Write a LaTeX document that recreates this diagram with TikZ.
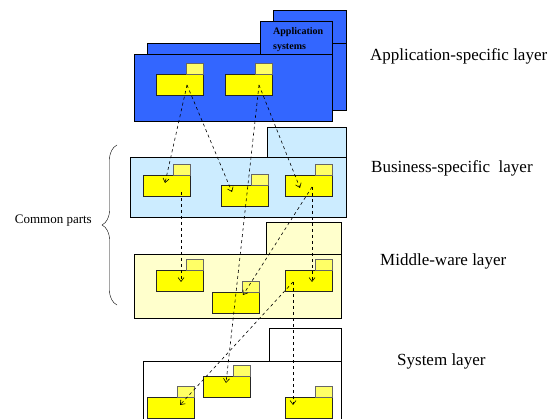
\documentclass[tikz,border=0pt]{standalone}
\usepackage{fontspec}
\setmainfont{Liberation Serif}
\usetikzlibrary{arrows.meta, decorations.pathreplacing}
\definecolor{appBlue}{HTML}{3366FF}
\definecolor{busBlue}{HTML}{CCECFF}
\definecolor{midYellow}{HTML}{FFFFCC}
\definecolor{pkgYellow}{HTML}{FFFF00}
\definecolor{tabYellow}{HTML}{FFFF66}

\newcommand{\umlpkg}[3]{%
  \node[pkgbody] (#1) at (#2,#3) {};
  \node[pkgtab] (#1tab) at (#1.north east) {};}

\begin{document}
\begin{tikzpicture}[
  x=1pt, y=-1pt,
  lbody/.style={draw, line width=0.8pt, inner sep=0pt, outer sep=0pt, anchor=north west},
  ltab/.style={draw, line width=0.8pt, inner sep=0pt, outer sep=0pt, anchor=south east},
  pkgbody/.style={draw=black!85, line width=0.7pt, fill=pkgYellow, inner sep=0pt, outer sep=0pt,
                  minimum width=47pt, minimum height=21pt, anchor=north west},
  pkgtab/.style={draw=black!60, line width=0.7pt, fill=tabYellow, inner sep=0pt, outer sep=0pt,
                 minimum width=17pt, minimum height=11pt, anchor=south east},
  dep/.style={dashed, line width=0.6pt, -{Straight Barb[length=4pt, width=6pt]}},
  layername/.style={anchor=base west, inner sep=0pt, font=\fontsize{17}{20}\selectfont}
]
\clip (0,0) rectangle (551,419);

\node[lbody, fill=appBlue, minimum width=199pt, minimum height=67pt] (appback) at (147,43) {};
\node[ltab, fill=appBlue, minimum width=73pt, minimum height=33pt] (appbacktab) at (appback.north east) {};
\node[lbody, fill=appBlue, minimum width=198pt, minimum height=67pt] (app) at (134,54) {};
\node[ltab, fill=appBlue, minimum width=72pt, minimum height=33pt] (apptab) at (app.north east) {};
\node[anchor=north west, align=left, inner sep=0pt, font=\fontsize{10}{15}\selectfont\bfseries]
  (appsys) at (273,27) {Application\\systems};

\node[lbody, fill=busBlue, minimum width=216pt, minimum height=60pt] (bus) at (130,157) {};
\node[ltab, fill=busBlue, minimum width=79pt, minimum height=30pt] (bustab) at (bus.north east) {};

\node[lbody, fill=midYellow, minimum width=207pt, minimum height=64pt] (mid) at (134,254) {};
\node[ltab, fill=midYellow, minimum width=75pt, minimum height=32pt] (midtab) at (mid.north east) {};

\node[lbody, fill=white, minimum width=198pt, minimum height=80pt] (sys) at (143,361) {};
\node[ltab, fill=white, minimum width=72pt, minimum height=33pt] (systab) at (sys.north east) {};

\umlpkg{app1}{156}{74}
\umlpkg{app2}{225}{74}
\umlpkg{busA}{143}{175}
\umlpkg{busB}{221}{185}
\umlpkg{busC}{285}{175}
\umlpkg{midD}{156}{270}
\umlpkg{midE}{212}{292}
\umlpkg{midF}{285}{270}
\umlpkg{sysG}{147}{397}
\umlpkg{sysH}{203}{376}
\umlpkg{sysI}{285}{397}

\draw[dep] ([shift={(31,11)}]app1.north west) -- ([shift={(22,8)}]busA.north west);
\draw[dep] ([shift={(31,11)}]app1.north west) -- ([shift={(11,7)}]busB.north west);
\draw[dep] ([shift={(34,11)}]app2.north west) -- ([shift={(15,13)}]busC.north west);
\draw[dep] ([shift={(34,11)}]app2.north west) -- ([shift={(23,7)}]sysH.north west);
\draw[dep] ([shift={(38,17)}]busA.north west) -- ([shift={(25,12)}]midD.north west);
\draw[dep] ([shift={(27,12)}]busC.north west) -- ([shift={(27,12)}]midF.north west);
\draw[dep] ([shift={(27,12)}]busC.north west) -- ([shift={(31,3)}]midE.north west);
\draw[dep] ([shift={(8,12)}]midF.north west) -- ([shift={(8,8)}]sysI.north west);
\draw[dep] ([shift={(8,12)}]midF.north west) -- ([shift={(33,8)}]sysG.north west);

\node[layername] (appname) at (370,61) {Application-specific layer};
\node[layername] (busname) at (371,173) {Business-specific\ \ layer};
\node[layername] (midname) at (380,266) {Middle-ware layer};
\node[layername] (sysname) at (397,365) {System layer};

\draw[decorate, decoration={brace, amplitude=15pt}] (117,305) -- (117,145);
\node[anchor=base east, inner sep=0pt, font=\fontsize{13}{15}\selectfont] (common) at (92,224) {Common parts};
\end{tikzpicture}
\end{document}
